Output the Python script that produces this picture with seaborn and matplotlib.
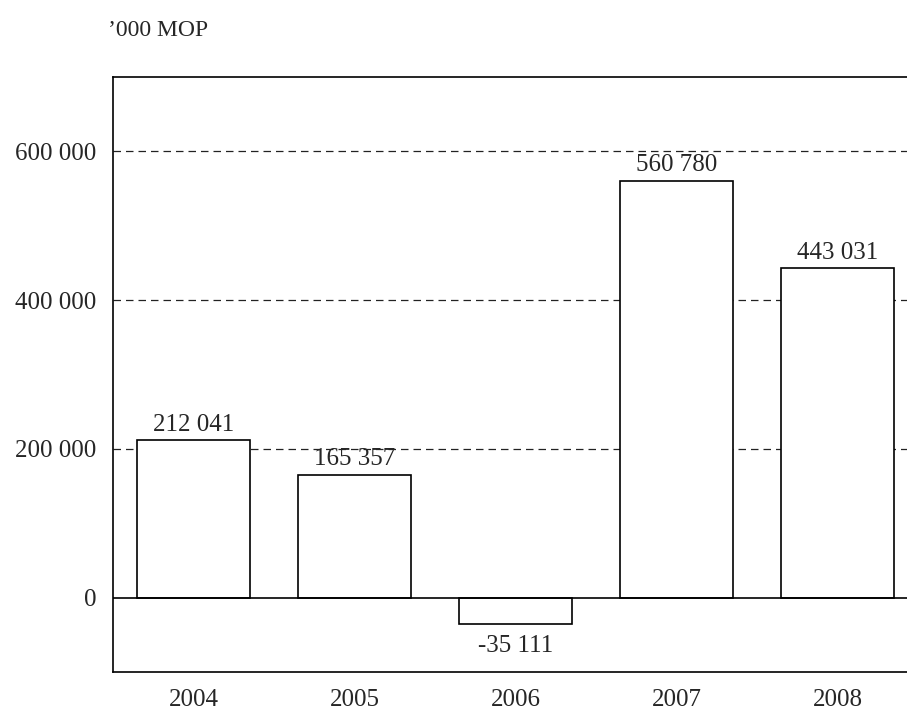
import matplotlib
matplotlib.use("Agg")
import matplotlib.pyplot as plt
import pandas as pd
import seaborn as sns

years = ["2004", "2005", "2006", "2007", "2008"]
values = [212041, 165357, -35111, 560780, 443031]
yticks = [0, 200000, 400000, 600000]
ytick_labels = ["0", "200 000", "400 000", "600 000"]
unit_label = "\u2019000 MOP"

df = pd.DataFrame({"year": years, "value": values})

sns.set_style("white")
plt.rcParams["font.family"] = ["Liberation Serif", "DejaVu Serif"]

fig = plt.figure(figsize=(9.07, 7.11), dpi=100)
W, H = 907, 711
ax = fig.add_axes([113 / W, 1 - 672 / H, (918 - 113) / W, (672 - 77) / H])

sns.barplot(data=df, x="year", y="value", ax=ax, color="white",
            edgecolor="black", linewidth=1.2, width=0.7, saturation=1)

ax.set_xlim(-0.5, 4.5)
ax.set_ylim(-100000, 700000)
for t in yticks[1:]:
    ax.axhline(t, color="#222222", linestyle=(0, (6, 4)), linewidth=0.9, zorder=0)
ax.axhline(0, color="black", linewidth=1.2, zorder=3)

ax.set_yticks(yticks)
ax.set_yticklabels(ytick_labels)
ax.tick_params(axis="y", length=0, labelsize=18, pad=12)
ax.tick_params(axis="x", length=0, labelsize=18, pad=12.5)
ax.set_xlabel("")
ax.set_ylabel("")
for s in ax.spines.values():
    s.set_color("black")
    s.set_linewidth(1.2)

for i, v in enumerate(values):
    txt = f"{abs(v):,}".replace(",", " ")
    if v < 0:
        txt = "-" + txt
        ax.annotate(txt, (i, v), xytext=(0, -8), textcoords="offset points",
                    ha="center", va="top", fontsize=18)
    else:
        ax.annotate(txt, (i, v), xytext=(0, 3), textcoords="offset points",
                    ha="center", va="bottom", fontsize=18)

fig.text(108 / W, 1 - 30 / H, unit_label, fontsize=17, va="center", ha="left")

fig.savefig("out.png", dpi=100)
